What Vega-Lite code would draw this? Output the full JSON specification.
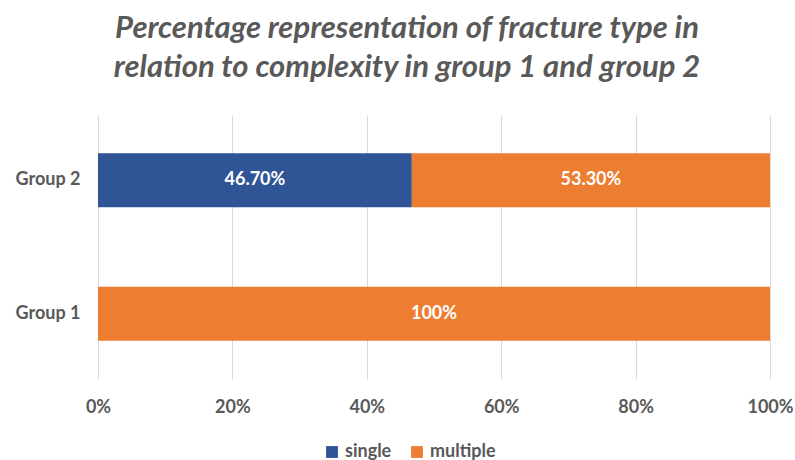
{
  "$schema": "https://vega.github.io/schema/vega-lite/v6.json",
  "autosize": {"type": "none"},
  "width": 672,
  "height": 264,
  "padding": {"left": 98, "top": 115, "right": 25, "bottom": 81},
  "background": "white",
  "title": {
    "text": ["Percentage representation of fracture type in", "relation to complexity in group 1 and group 2"],
    "font": "Lato",
    "fontSize": 31,
    "fontStyle": "italic",
    "fontWeight": "bold",
    "color": "#595959",
    "lineHeight": 39,
    "anchor": "middle",
    "dx": -27,
    "offset": 31
  },
  "data": {
    "values": [
      {"group": "Group 2", "type": "single", "order": 1, "value": 46.7, "label": "46.70%"},
      {"group": "Group 2", "type": "multiple", "order": 2, "value": 53.3, "label": "53.30%"},
      {"group": "Group 1", "type": "multiple", "order": 2, "value": 100, "label": "100%"}
    ]
  },
  "transform": [
    {"stack": "value", "groupby": ["group"], "sort": [{"field": "order"}], "as": ["v0", "v1"]},
    {"calculate": "(datum.v0 + datum.v1) / 2", "as": "mid"}
  ],
  "encoding": {
    "y": {
      "field": "group",
      "type": "nominal",
      "sort": ["Group 2", "Group 1"],
      "scale": {"paddingInner": 0.596, "paddingOuter": 0.287},
      "axis": {
        "title": null,
        "domain": false,
        "ticks": false,
        "labelFont": "Lato",
        "labelFontSize": 18,
        "labelFontWeight": "bold",
        "labelColor": "#595959",
        "labelPadding": 18
      }
    }
  },
  "layer": [
    {
      "mark": {"type": "bar"},
      "encoding": {
        "x": {
          "field": "v0",
          "type": "quantitative",
          "scale": {"domain": [0, 100]},
          "axis": {
            "title": null,
            "values": [0, 20, 40, 60, 80, 100],
            "labelExpr": "datum.value + '%'",
            "labelFlush": false,
            "labelBound": false,
            "domain": false,
            "ticks": false,
            "grid": true,
            "gridColor": "#d9d9d9",
            "gridWidth": 1,
            "labelFont": "Lato",
            "labelFontSize": 18,
            "labelFontWeight": "bold",
            "labelColor": "#595959",
            "labelPadding": 19
          }
        },
        "x2": {"field": "v1"},
        "color": {
          "field": "type",
          "type": "nominal",
          "scale": {"domain": ["single", "multiple"], "range": ["#2F5597", "#ED7D31"]},
          "legend": {
            "title": null,
            "orient": "none",
            "legendX": 225,
            "legendY": 328,
            "direction": "horizontal",
            "symbolType": "square",
            "symbolSize": 140,
            "symbolStrokeWidth": 0,
            "labelFont": "Lato",
            "labelFontSize": 18,
            "labelFontWeight": "bold",
            "labelColor": "#595959",
            "columnPadding": 16,
            "labelOffset": 4
          }
        }
      }
    },
    {
      "mark": {"type": "text", "color": "white", "font": "Lato", "fontSize": 18, "fontWeight": "bold"},
      "encoding": {
        "x": {"field": "mid", "type": "quantitative"},
        "text": {"field": "label"}
      }
    }
  ],
  "config": {"view": {"stroke": null}}
}
